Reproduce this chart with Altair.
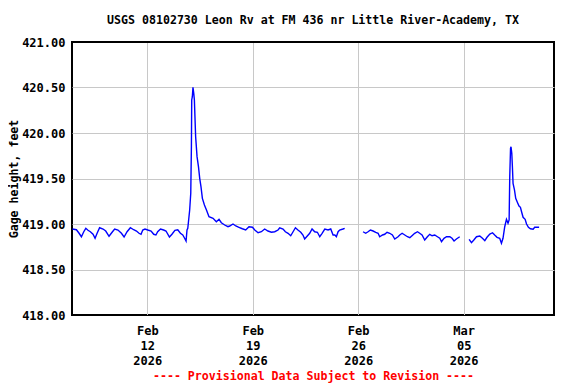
import altair as alt
import pandas as pd

# Gage height readings (feet), local time 2026
times1 = ["02-07 00:45","02-07 07:00","02-07 11:00","02-07 15:00","02-07 18:45","02-07 22:00",
"02-08 01:30","02-08 05:15","02-08 09:30","02-08 12:45","02-08 16:00","02-08 20:00",
"02-09 01:30","02-09 05:45","02-09 11:00","02-09 16:30","02-09 20:00",
"02-10 01:15","02-10 06:45","02-10 11:00","02-10 15:45","02-10 21:00",
"02-11 02:15","02-11 06:45","02-11 10:45","02-11 14:00","02-11 16:45","02-11 20:15",
"02-12 00:45","02-12 06:00","02-12 10:15","02-12 13:45","02-12 16:30","02-12 21:00",
"02-13 02:00","02-13 05:45","02-13 11:15","02-13 15:15","02-13 20:00",
"02-14 00:30","02-14 04:45","02-14 08:30","02-14 11:00","02-14 13:45","02-14 15:15","02-14 16:30",
"02-14 19:30","02-14 21:15","02-14 22:15","02-14 22:45","02-14 23:45",
"02-15 00:45","02-15 02:00","02-15 03:00","02-15 05:00","02-15 07:15","02-15 09:30","02-15 11:30",
"02-15 13:30","02-15 15:45","02-15 19:00","02-15 22:15",
"02-16 02:15","02-16 08:45","02-16 14:00","02-16 18:15","02-16 22:00",
"02-17 03:15","02-17 08:30","02-17 11:15","02-17 16:30","02-17 21:00",
"02-18 02:00","02-18 07:30","02-18 12:45","02-18 18:00","02-18 23:30",
"02-19 03:15","02-19 08:30","02-19 13:45","02-19 19:00",
"02-20 00:15","02-20 05:45","02-20 11:00","02-20 16:15","02-20 19:00",
"02-21 00:15","02-21 04:00","02-21 08:15","02-21 12:30","02-21 16:15","02-21 20:00",
"02-22 00:00","02-22 04:30","02-22 08:00","02-22 10:45","02-22 15:15","02-22 18:45","02-22 22:30",
"02-23 02:45","02-23 07:00","02-23 10:45","02-23 14:30","02-23 18:45",
"02-24 00:00","02-24 04:15","02-24 08:00","02-24 10:45","02-24 13:15","02-24 16:00","02-24 18:30","02-24 23:45",
"02-25 02:30"]
gage1 = [418.945,418.937,418.901,418.860,418.915,418.953,
418.931,418.915,418.887,418.843,418.898,418.959,
418.945,418.923,418.865,418.915,418.945,
418.934,418.898,418.857,418.915,418.959,
418.937,418.923,418.898,418.887,418.934,418.945,
418.934,418.923,418.887,418.879,418.915,418.945,
418.934,418.923,418.857,418.887,418.931,
418.937,418.898,418.879,418.849,418.813,418.934,418.953,
419.154,419.341,419.849,420.363,420.399,
420.502,420.436,420.363,419.959,419.740,419.630,419.502,
419.410,419.282,419.209,419.154,
419.080,419.063,419.025,419.052,419.014,
418.989,418.970,418.978,419.000,418.978,
418.964,418.948,418.934,418.970,418.964,
418.934,418.904,418.915,418.945,
418.923,418.909,418.915,418.934,418.959,
418.945,418.915,418.898,418.871,418.915,418.959,
418.934,418.909,418.879,418.835,418.871,418.898,418.945,
418.915,418.909,418.860,418.898,418.945,
418.934,418.945,418.879,418.879,418.860,418.915,418.934,418.945,
418.953]

times2 = ["02-26 07:45","02-26 12:00","02-26 15:45","02-26 19:30","02-26 23:45",
"02-27 04:00","02-27 07:45","02-27 10:15","02-27 14:45","02-27 18:15","02-27 22:00",
"02-28 02:15","02-28 06:30","02-28 10:15","02-28 15:30","02-28 18:15","02-28 22:00",
"03-01 02:15","03-01 06:30","03-01 10:15","03-01 13:45","03-01 18:00","03-01 22:30",
"03-02 02:00","03-02 05:45","03-02 10:00","03-02 14:15","03-02 18:00","03-02 21:45",
"03-03 02:00","03-03 06:15","03-03 10:00","03-03 12:45","03-03 16:45","03-03 20:45",
"03-04 02:00","03-04 05:30","03-04 08:45","03-04 12:30","03-04 17:45"]
gage2 = [418.915,418.898,418.915,418.934,418.923,
418.909,418.898,418.860,418.879,418.887,418.909,
418.898,418.879,418.835,418.860,418.879,418.898,
418.879,418.860,418.849,418.871,418.898,418.915,
418.898,418.879,418.824,418.860,418.887,418.871,
418.879,418.860,418.843,418.806,418.843,418.860,
418.860,418.843,418.813,418.835,418.860]

times3 = ["03-05 08:45","03-05 12:30","03-05 16:15","03-05 20:30",
"03-06 01:45","03-06 06:00","03-06 09:45","03-06 13:15","03-06 17:45","03-06 22:00",
"03-07 01:30","03-07 05:15","03-07 09:30","03-07 12:15","03-07 14:45","03-07 17:30","03-07 20:15","03-07 22:45",
"03-08 00:30","03-08 01:30","03-08 02:45","03-08 03:30","03-08 04:45","03-08 05:45","03-08 06:45",
"03-08 09:00","03-08 11:00","03-08 13:15","03-08 16:15","03-08 18:30","03-08 20:45","03-08 22:45",
"03-09 02:00","03-09 04:15","03-09 07:15","03-09 10:30","03-09 14:45","03-09 17:15",
"03-10 00:15"]
gage3 = [418.832,418.795,418.824,418.860,
418.868,418.843,418.817,418.854,418.890,418.904,
418.879,418.854,418.843,418.788,418.843,418.970,419.052,419.008,
419.044,419.520,419.832,419.849,419.777,419.623,419.447,
419.374,419.282,419.245,419.198,419.183,419.124,419.074,
419.052,419.000,418.964,418.948,418.942,418.964,
418.964]

y_ticks = [418.0, 418.5, 419.0, 419.5, 420.0, 420.5, 421.0]
x_ticks = [(2, 12), (2, 19), (2, 26), (3, 5)]
x_domain = [(2, 7), (3, 11)]

TITLE = "USGS 08102730 Leon Rv at FM 436 nr Little River-Academy, TX"
FOOTER = "---- Provisional Data Subject to Revision ----"
Y_TITLE = "Gage height, feet"
FONT = "DejaVu Sans Mono"

rows = []
for seg, (ts, gs) in enumerate([(times1, gage1), (times2, gage2), (times3, gage3)]):
    for t, g in zip(ts, gs):
        rows.append({"time": f"2026-{t[:5]}T{t[6:]}:00", "gage": g, "seg": seg})
df = pd.DataFrame(rows)

grid_color = {"condition": {"test": "datum.value == 418 || datum.value == 421", "value": "black"},
              "value": "#c8c8c8"}

chart = alt.Chart(df).mark_line(color="#0000ff", strokeWidth=1.4).encode(
    x=alt.X(
        "time:T",
        scale=alt.Scale(domain=[alt.DateTime(year=2026, month=m, date=d) for m, d in x_domain]),
        axis=alt.Axis(
            values=[alt.DateTime(year=2026, month=m, date=d) for m, d in x_ticks],
            labelExpr="[timeFormat(datum.value, '%b'), timeFormat(datum.value, '%d'), timeFormat(datum.value, '%Y')]",
            title=FOOTER,
            titleColor="#ff0000",
            titlePadding=4,
            labelPadding=10,
            labelLineHeight=15,
            ticks=False,
            domain=False,
            gridColor="#c8c8c8",
        ),
    ),
    y=alt.Y(
        "gage:Q",
        scale=alt.Scale(domain=[418, 421]),
        axis=alt.Axis(
            values=y_ticks,
            format=".2f",
            title=Y_TITLE,
            titlePadding=2,
            labelPadding=7,
            ticks=False,
            domain=False,
            gridColor=grid_color,
        ),
    ),
    detail="seg:N",
).properties(
    width=482,
    height=273,
    title=alt.TitleParams(TITLE, font=FONT, fontSize=11.6, fontWeight="bold", anchor="middle",
                          offset=9, color="black"),
    autosize=alt.AutoSizeParams(type="none"),
    padding={"left": 64, "top": 34, "right": 14, "bottom": 68},
).configure_view(
    stroke="black", strokeWidth=2
).configure_axis(
    labelFont=FONT, labelFontSize=12, labelFontWeight="bold", labelColor="black",
    titleFont=FONT, titleFontSize=11.6, titleFontWeight="bold", titleColor="black",
    gridWidth=1,
)

chart.save("out.html", embed_options={"renderer": "svg", "actions": False})
